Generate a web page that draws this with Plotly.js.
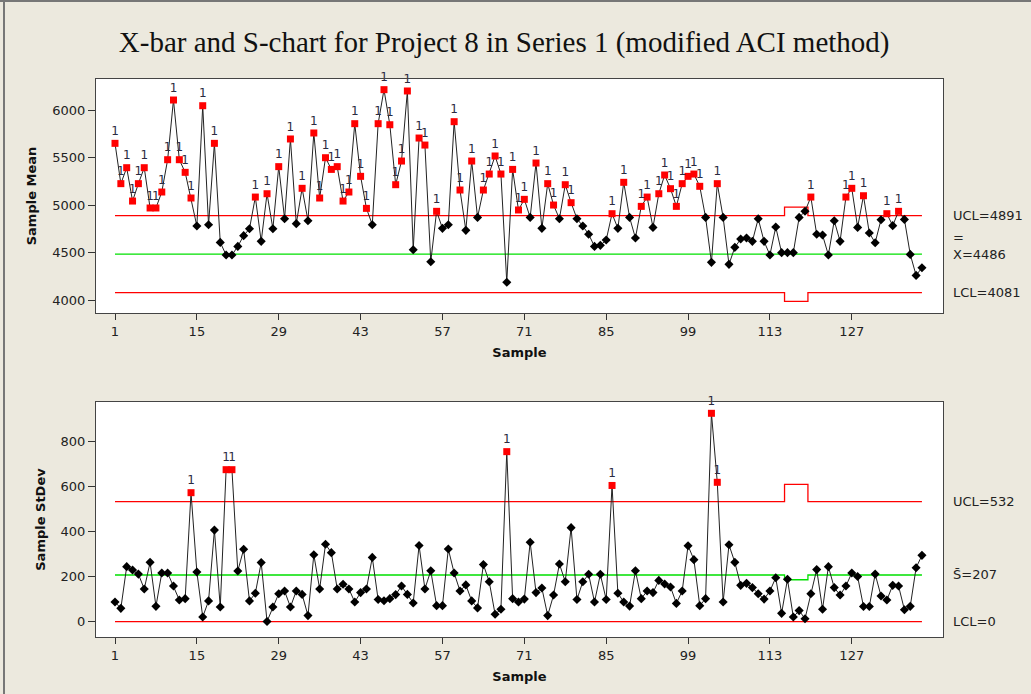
<!DOCTYPE html>
<html><head><meta charset="utf-8">
<script src="https://cdn.plot.ly/plotly-3.0.1.min.js"></script>
<style>html,body{margin:0;padding:0;background:#ECE9DE}</style>
</head><body><div id="chart" style="width:1031px;height:694px"></div>
<script>
// ---------- data ----------
const xbarValues = [
  5652,5228,5396,5045,5228,5396,4972,4972,5140,5480,
  6108,5480,5347,5077,4782,6048,4796,5652,4610,4477,
  4477,4568,4681,4754,5087,4621,5122,4754,5407,4859,
  5698,4807,5179,4838,5761,5077,5501,5378,5407,5045,
  5140,5859,5305,4968,4796,5859,6217,5848,5217,5466,
  6203,4533,5708,5634,4407,4937,4758,4796,5880,5161,
  4737,5466,4873,5161,5329,5519,5329,4190,5378,4951,
  5063,4873,5445,4758,5228,5003,4859,5217,5028,4859,
  4782,4695,4568,4579,4635,4912,4758,5242,4873,4656,
  4989,5087,4768,5122,5319,5175,4989,5228,5305,5329,
  5200,4873,4400,5228,4873,4379,4558,4645,4656,4621,
  4859,4621,4477,4772,4502,4502,4502,4873,4937,5087,
  4695,4688,4477,4838,4621,5087,5179,4768,5101,4709,
  4607,4849,4912,4786,4937,4852,4484,4263,4344];
const stdevValues = [
  87,59,244,229,211,145,263,68,216,216,
  158,96,102,572,220,21,92,406,65,674,
  674,225,321,92,126,262,1,65,124,136,
  65,136,121,27,297,145,343,306,145,166,
  145,87,129,145,285,98,93,102,120,158,
  121,83,338,145,226,71,71,322,216,136,
  163,92,61,253,177,33,55,754,102,87,
  100,352,129,149,27,118,256,177,417,98,
  177,210,87,210,98,604,126,87,69,226,
  102,136,129,183,167,154,81,136,337,275,
  71,102,924,618,87,341,263,161,170,151,
  124,100,136,195,37,188,21,49,13,124,
  231,55,244,151,118,158,216,200,67,67,
  211,114,96,161,158,53,68,239,294];
const xTickLabels = [1,15,29,43,57,71,85,99,113,127];
const xbarLimits = {ucl:4891, center:4486, lcl:4081};
const xbarLimitsSmall = {ucl:4982, center:4486, lcl:3990};
const sLimits = {ucl:532, center:207, lcl:0};
const sLimitsSmall = {ucl:609, center:186, lcl:0};
const smallSubgroupSamples = [116,117,118,119];

// ---------- build ----------
const samples = xbarValues.map((_, i) => i + 1);
function limitArr(key, base, small) {
  return samples.map(s => smallSubgroupSamples.includes(s) ? small[key] : base[key]);
}
const RED = '#FF0000', GREEN = '#00E000';
function chartTraces(vals, base, small, xa, ya) {
  const ucl = limitArr('ucl', base, small), cl = limitArr('center', base, small), lcl = limitArr('lcl', base, small);
  const out = [], inn = [];
  vals.forEach((v, i) => { (v > ucl[i] || v < lcl[i]) ? out.push(i) : inn.push(i); });
  const stepLine = (y, c) => ({x: samples, y, xaxis: xa, yaxis: ya, mode: 'lines', line: {color: c, width: 1.3, shape: 'hvh'}, hoverinfo: 'skip'});
  return [
    stepLine(ucl, RED), stepLine(cl, GREEN), stepLine(lcl, RED),
    {x: samples, y: vals, xaxis: xa, yaxis: ya, mode: 'lines', line: {color: '#222', width: 1}},
    {x: inn.map(i => samples[i]), y: inn.map(i => vals[i]), xaxis: xa, yaxis: ya, mode: 'markers',
     marker: {symbol: 'diamond', size: 7, color: '#000'}},
    {x: out.map(i => samples[i]), y: out.map(i => vals[i]), xaxis: xa, yaxis: ya, mode: 'markers+text',
     text: out.map(() => '1'), textposition: 'top center', textfont: {family: 'DejaVu Sans', size: 12, color: '#2a2a40'},
     marker: {symbol: 'square', size: 7, color: RED}, cliponaxis: false}
  ];
}
const traces = [
  ...chartTraces(xbarValues, xbarLimits, xbarLimitsSmall, 'x', 'y'),
  ...chartTraces(stdevValues, sLimits, sLimitsSmall, 'x2', 'y2')
];

const tickFont = {family: 'DejaVu Sans', size: 13, color: '#222'};
const titleFont = {family: 'DejaVu Sans', size: 13, color: '#111', weight: 'bold'};
function xAxis(anchor) {
  return {anchor, range: [-2.25, 142.6], tickvals: xTickLabels, ticktext: xTickLabels.map(String),
    ticks: 'outside', ticklen: 6, tickcolor: '#333', showline: true, mirror: true, linecolor: '#444', linewidth: 1,
    showgrid: false, zeroline: false, tickfont: tickFont,
    title: {text: 'Sample', font: titleFont, standoff: 10}};
}
function yAxis(anchor, domain, range, dtick, title, standoff) {
  return {anchor, domain, range, dtick, ticks: 'outside', ticklen: 7, tickcolor: '#333', showline: true, mirror: true,
    linecolor: '#444', linewidth: 1, showgrid: false, zeroline: false, tickfont: tickFont,
    title: {text: title, font: titleFont, standoff}};
}
const labFont = {family: 'DejaVu Sans', size: 13, color: '#222'};
const lab = (yref, y, text, yshift) => ({xref: 'paper', yref, x: 1.0095, y, text, showarrow: false, xanchor: 'left', yanchor: 'middle', align: 'left', font: labFont, yshift: yshift || 0});

// frame lines (paper coords: plot spans px 96..943, py 79..637)
const px = p => (p - 96) / 847, py = p => (637 - p) / 558;
const layout = {
  width: 1031, height: 694,
  paper_bgcolor: '#ECE9DE', plot_bgcolor: '#FFFFFF',
  margin: {l: 96, r: 88, t: 79, b: 57},
  showlegend: false,
  title: {text: 'X-bar and S-chart for Project 8 in Series 1 (modified ACI method)',
    font: {family: 'Liberation Serif', size: 29, color: '#111'}, xref: 'container', x: 0.489, xanchor: 'center',
    yref: 'container', y: 1 - 42/694, yanchor: 'middle'},
  xaxis: xAxis('y'),
  yaxis: yAxis('x', [0.5806, 1], [3867, 6329], 500, 'Sample Mean', 12),
  xaxis2: xAxis('y2'),
  yaxis2: yAxis('x2', [0, 0.4211], [-68, 974], 200, 'Sample StDev', 12),
  shapes: [
    {type: 'line', xref: 'paper', yref: 'paper', x0: px(4), x1: px(4), y0: py(0), y1: py(694), line: {color: '#777', width: 2}},
    {type: 'line', xref: 'paper', yref: 'paper', x0: px(0), x1: px(1031), y0: py(1), y1: py(1), line: {color: '#777', width: 2}}
  ],
  annotations: [
    lab('y', xbarLimits.ucl, 'UCL=' + xbarLimits.ucl),
    lab('y', xbarLimits.center, '=<br>X=' + xbarLimits.center, 8),
    lab('y', xbarLimits.lcl, 'LCL=' + xbarLimits.lcl),
    lab('y2', sLimits.ucl, 'UCL=' + sLimits.ucl),
    lab('y2', sLimits.center, 'S\u0304=' + sLimits.center),
    lab('y2', sLimits.lcl, 'LCL=' + sLimits.lcl)
  ]
};
Plotly.newPlot('chart', traces, layout, {displayModeBar: false, staticPlot: true});
</script></body></html>
